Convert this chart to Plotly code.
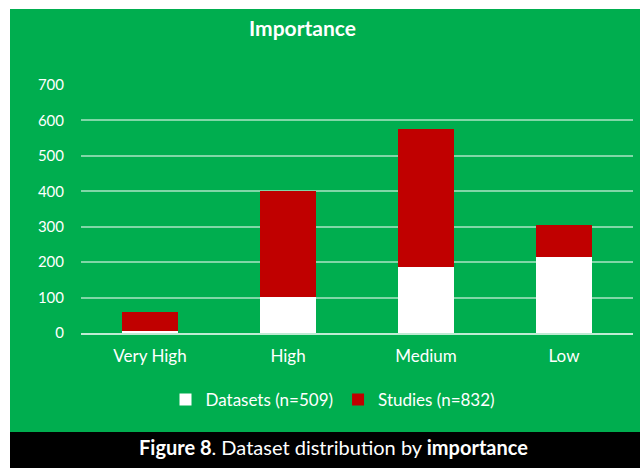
import plotly.graph_objects as go

# Importance levels and counts per group
categories = ["Very High", "High", "Medium", "Low"]
datasets = [7, 102, 186, 214]    # n = 509
studies = [51, 300, 390, 91]     # n = 832
y_ticks = [0, 100, 200, 300, 400, 500, 600, 700]

GREEN = "#00AE4F"
RED = "#C00000"
FONT = "Lato"

W, H = 640, 468
L, R, T, B = 81, 7, 85, 135
pw, ph = W - L - R, H - T - B


def px_x(x):
    return (x - L) / pw


def px_y(y):
    return (H - B - y) / ph


fig = go.Figure()
fig.add_trace(go.Bar(x=categories, y=datasets, name="Datasets (n=509)",
                     marker=dict(color="white", line=dict(width=0))))
fig.add_trace(go.Bar(x=categories, y=studies, name="Studies (n=832)",
                     marker=dict(color=RED, line=dict(width=0))))

fig.update_layout(
    width=W, height=H,
    margin=dict(l=L, r=R, t=T, b=B, pad=0),
    barmode="stack", bargap=0.6,
    paper_bgcolor=GREEN, plot_bgcolor=GREEN,
    font=dict(family=FONT, color="white", size=16),
    showlegend=True,
    legend=dict(orientation="h", x=px_x(333), xanchor="center",
                y=px_y(400), yanchor="middle",
                bgcolor="rgba(0,0,0,0)", font=dict(size=17, color="white"),
                itemwidth=30, traceorder="normal"),
    xaxis=dict(showgrid=False, showline=True, linecolor="rgba(255,255,255,0.75)",
               linewidth=2, ticks="", ticklabelstandoff=7,
               tickfont=dict(size=17, color="white"), fixedrange=True),
    yaxis=dict(range=[0, 700], tickvals=y_ticks, showgrid=True,
               gridcolor="rgba(255,255,255,0.5)", gridwidth=2,
               zeroline=False, showline=False, ticks="",
               ticklabelstandoff=16,
               tickfont=dict(size=15, color="white"), fixedrange=True),
    shapes=[
        # white frame at top and left
        dict(type="rect", xref="paper", yref="paper", x0=px_x(0), x1=px_x(W),
             y0=px_y(0), y1=px_y(9), fillcolor="white", line=dict(width=0)),
        dict(type="rect", xref="paper", yref="paper", x0=px_x(0), x1=px_x(10),
             y0=px_y(0), y1=px_y(H), fillcolor="white", line=dict(width=0)),
        # caption band
        dict(type="rect", xref="paper", yref="paper", x0=px_x(10), x1=px_x(W),
             y0=px_y(432), y1=px_y(H), fillcolor="black", line=dict(width=0)),
    ],
    annotations=[
        dict(text="<b>Importance</b>", xref="paper", yref="paper",
             x=px_x(302), y=px_y(27), xanchor="center", yanchor="middle",
             showarrow=False, font=dict(size=21, color="white", family=FONT)),
        dict(text="<b>Figure 8</b>. Dataset distribution by <b>importance</b>",
             xref="paper", yref="paper", x=px_x(333), y=px_y(447),
             xanchor="center", yanchor="middle", showarrow=False,
             font=dict(size=20, color="white", family=FONT)),
    ],
)

fig.write_html("out.html")
